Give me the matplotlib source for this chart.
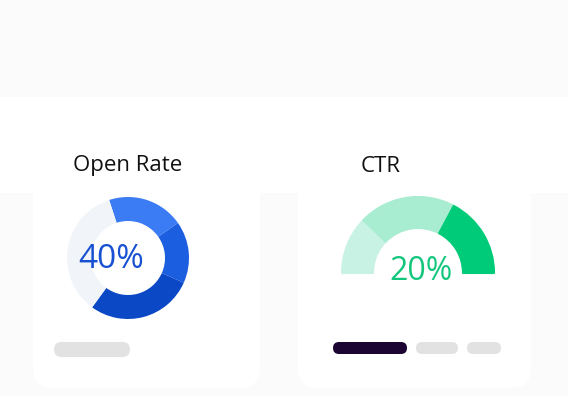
import matplotlib.pyplot as plt
from matplotlib.patches import Rectangle, FancyBboxPatch

plt.rcParams['font.family'] = ['Open Sans', 'DejaVu Sans']

# card titles and the big numbers
titles = ['Open Rate', 'CTR']
values = ['40%', '20%']

# donut: three blue pieces + the grey rest (degrees)
open_rate_parts = [73, 59, 102, 126]
open_rate_colors = ['#3b7bf3', '#1c5ee0', '#0b48c6', '#f1f4f9']

# half gauge: three green pieces, the lower half is hidden
ctr_parts = [44, 74, 62, 180]
ctr_colors = ['#c8f3e4', '#a8ecd2', '#00cb78', 'none']

W, H = 568, 396
fig = plt.figure(figsize=(W / 100, H / 100), dpi=100)
fig.patch.set_facecolor('white')
ax = fig.add_axes([0, 0, 1, 1])


def yy(y):  # picture rows -> axis y (up)
    return H - y


# background bands
ax.add_patch(Rectangle((0, yy(97)), W, 97, color='#fbfbfb', lw=0, zorder=0))
ax.add_patch(Rectangle((0, 0), W, H - 193, color='#fbfbfb', lw=0, zorder=0))

# cards (white, rounded) - top corners hidden in the white band
for x0, x1 in [(33, 260), (298, 531)]:
    ax.add_patch(FancyBboxPatch((x0, yy(388)), x1 - x0, 388 - 175,
                                boxstyle='round,pad=0,rounding_size=20',
                                fc='white', ec='none', zorder=1))

# donut
wedges, _ = ax.pie(open_rate_parts, colors=open_rate_colors, center=(128, yy(258)),
                   radius=61, startangle=108, counterclock=False,
                   wedgeprops=dict(width=24, linewidth=0))
for w in wedges:
    w.set_zorder(2)

# gauge
wedges, _ = ax.pie(ctr_parts, colors=ctr_colors, center=(418, yy(273)),
                   radius=76, startangle=180, counterclock=False,
                   wedgeprops=dict(width=31, linewidth=0))
for w, c in zip(wedges, ctr_colors):
    w.set_zorder(2)
    if c != 'none':
        w.set_edgecolor(c)
        w.set_linewidth(1.5)
        w.set_joinstyle('round')

# titles
ax.text(128, yy(166), titles[0], fontsize=16, color='#111111', ha='center', va='center', zorder=3)
ax.text(381, yy(166), titles[1], fontsize=16, color='#111111', ha='center', va='center', zorder=3)

# big numbers
ax.text(111, yy(259), values[0], fontsize=24, color='#1750d2', ha='center', va='center', zorder=3)
ax.text(421, yy(271), values[1], fontsize=23, color='#12c77c', ha='center', va='center', zorder=3)

# placeholder pills
pills = [(54, 130, 342, 357, '#e2e2e2'),
         (333, 407, 342, 354, '#1c0433'),
         (416, 458, 342, 354, '#e2e2e2'),
         (467, 501, 342, 354, '#e2e2e2')]
for x0, x1, y0, y1, c in pills:
    h = y1 - y0
    ax.add_patch(FancyBboxPatch((x0, yy(y1)), x1 - x0, h,
                                boxstyle='round,pad=0,rounding_size=%g' % (h / 2),
                                fc=c, ec='none', zorder=3))

ax.set_xlim(0, W)
ax.set_ylim(0, H)
ax.set_aspect('auto')
ax.axis('off')

plt.savefig('out.png', dpi=100)
